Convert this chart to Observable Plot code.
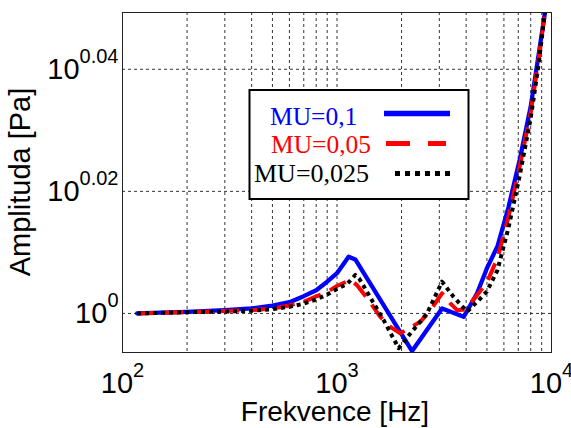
<!DOCTYPE html>
<html>
<head>
<meta charset="utf-8">
<script src="https://cdn.jsdelivr.net/npm/d3@7"></script>
<script src="https://cdn.jsdelivr.net/npm/@observablehq/plot@0.6"></script>
<style>
  html, body { margin: 0; padding: 0; background: #fff; }
  #chart { width: 571px; height: 428px; overflow: hidden; }
</style>
</head>
<body>
<div id="chart"></div>
<script>
// ---------------- data ----------------
const seriesNames = ["MU=0,1", "MU=0,05", "MU=0,025"];
const seriesColors = ["#0000ff", "#ff0000", "#000000"];

// MU=0,1 (blue, solid): frequency [Hz] and log10(amplitude)
const mu01Freq = [117, 150, 200, 300, 400, 500, 600, 700, 800, 900, 1000, 1133, 1217, 2238, 3088, 3895, 4500, 5000, 5600, 6300, 7100, 8000, 8700, 9320];
const mu01Exp  = [0, 0.00013, 0.00026, 0.00054, 0.00082, 0.00128, 0.00185, 0.00283, 0.0038, 0.0052, 0.0066, 0.0093, 0.00884, -0.00617, 0.00082, -0.00056, 0.0033, 0.0074, 0.0110, 0.0174, 0.0251, 0.0339, 0.0423, 0.0493];

// MU=0,05 (red, dashed)
const mu005Freq = [117, 150, 200, 300, 400, 500, 600, 700, 800, 900, 1000, 1153, 1240, 1404, 1592, 1773, 1973, 2121, 2446, 2724, 3088, 3377, 3628, 3967, 4500, 5000, 5600, 6300, 7100, 8000, 8700, 9320];
const mu005Exp  = [0, 0.0001, 0.0002, 0.0004, 0.00054, 0.0008, 0.0013, 0.0019, 0.0028, 0.0035, 0.0045, 0.0055, 0.00463, 0.00218, -0.00056, -0.00219, -0.00327, -0.00262, -0.00138, 0.00054, 0.00327, 0.00164, 0.00054, 0.00065, 0.0030, 0.0051, 0.00905, 0.0158, 0.0240, 0.0329, 0.0415, 0.0493];

// MU=0,025 (black, dotted)
const mu0025Freq = [117, 150, 200, 300, 400, 500, 600, 700, 800, 900, 1000, 1120, 1217, 1270, 1650, 1938, 2198, 2629, 3088, 3498, 4039, 4500, 5000, 5600, 6300, 7100, 8000, 8700, 9320];
const mu0025Exp  = [0, 0.0001, 0.0002, 0.0003, 0.00045, 0.0007, 0.0011, 0.0016, 0.0023, 0.0031, 0.0040, 0.0049, 0.0063, 0.0057, -0.0011, -0.0057, -0.0033, 0.0000, 0.0052, 0.0027, 0.0003, 0.0019, 0.0036, 0.0071, 0.0140, 0.0225, 0.0320, 0.0407, 0.0493];

// axes
const xDomain = [100, 10000];
const xTickValues = [100, 1000, 10000];
const xTickExps = ["2", "3", "4"];
const xGridValues = [200, 300, 400, 500, 600, 700, 800, 900, 1000, 2000, 3000, 4000, 5000, 6000, 7000, 8000, 9000];
const yDomainExp = [-0.0064, 0.0493];
const yTickExps = [0, 0.02, 0.04];
const yTickExpLabels = ["0", "0.02", "0.04"];
const xTitle = "Frekvence [Hz]";
const yTitle = "Amplituda [Pa]";

// ---------------- build ----------------
function rows(freq, exps) {
  return freq.map((f, i) => ({ f, a: Math.pow(10, exps[i]) }));
}
const blueRows = rows(mu01Freq, mu01Exp);
const redRows = rows(mu005Freq, mu005Exp);
const blackRows = rows(mu0025Freq, mu0025Exp);
const yTickValues = yTickExps.map(e => Math.pow(10, e));

function yLabel(d) {
  let best = 0;
  yTickValues.forEach((v, i) => { if (Math.abs(v - d) < Math.abs(yTickValues[best] - d)) best = i; });
  return "10^" + yTickExpLabels[best];
}
function xLabel(d) {
  let best = 0;
  xTickValues.forEach((v, i) => { if (Math.abs(v - d) < Math.abs(xTickValues[best] - d)) best = i; });
  return "10^" + xTickExps[best];
}

const gridStyle = { stroke: "#000", strokeOpacity: 1, strokeWidth: 0.8, strokeDasharray: "3,3" };

const chart = Plot.plot({
  width: 571,
  height: 428,
  marginLeft: 122,
  marginRight: 20,
  marginTop: 12,
  marginBottom: 76,
  style: { fontSize: "29px", fontFamily: "'Liberation Sans', Arial, sans-serif", background: "#fff", color: "#000", overflow: "visible" },
  x: { type: "log", domain: xDomain },
  y: { type: "log", domain: yDomainExp.map(e => Math.pow(10, e)) },
  marks: [
    Plot.gridX(xGridValues, gridStyle),
    Plot.gridY(yTickValues, gridStyle),
    Plot.line(blueRows, { x: "f", y: "a", stroke: seriesColors[0], strokeWidth: 4.3, clip: true }),
    Plot.line(redRows, { x: "f", y: "a", stroke: seriesColors[1], strokeWidth: 4, strokeDasharray: "18,10", strokeLinecap: "butt", clip: true }),
    Plot.line(blackRows, { x: "f", y: "a", stroke: seriesColors[2], strokeWidth: 4, strokeDasharray: "4,4", strokeLinecap: "butt", clip: true }),
    Plot.frame({ stroke: "#222", strokeWidth: 1 }),
    Plot.axisX(xTickValues, { tickSize: 0, tickPadding: 20, tickFormat: xLabel, label: null }),
    Plot.axisY(yTickValues, { tickSize: 0, tickPadding: 4, tickFormat: yLabel, label: null })
  ]
});
document.getElementById("chart").appendChild(chart);

// superscript tick labels (10^n)
const NS = "http://www.w3.org/2000/svg";
chart.querySelectorAll('g[aria-label="x-axis tick label"] text, g[aria-label="y-axis tick label"] text').forEach(t => {
  const parts = t.textContent.split("^");
  if (parts.length !== 2) return;
  t.textContent = "";
  const b = document.createElementNS(NS, "tspan");
  b.textContent = parts[0];
  t.appendChild(b);
  const s = document.createElementNS(NS, "tspan");
  s.setAttribute("dy", "-16");
  s.setAttribute("font-size", "20");
  s.textContent = parts[1];
  t.appendChild(s);
});

const svg = d3.select(chart);
// axis titles
svg.append("text")
  .attr("x", 335).attr("y", 421)
  .attr("text-anchor", "middle")
  .attr("font-size", 28)
  .attr("fill", "#000")
  .text(xTitle);
svg.append("text")
  .attr("transform", "translate(30,182) rotate(-90)")
  .attr("text-anchor", "middle")
  .attr("font-size", 29)
  .attr("fill", "#000")
  .text(yTitle);

// legend
const lg = svg.append("g").attr("aria-label", "legend");
lg.append("rect")
  .attr("x", 249.5).attr("y", 90).attr("width", 219).attr("height", 109)
  .attr("fill", "#fff").attr("stroke", "#000").attr("stroke-width", 2);
const legendDash = [null, "24,18", "5,5"];
const legendWidth = [5.5, 5, 5];
const legendTextX = [270, 271, 254];
const legendTextSize = [25.5, 25.5, 26];
const legendLineX = [[384, 450], [386, 446], [395, 455]];
seriesNames.forEach((name, i) => {
  const base = 124.5 + i * 28.5;
  lg.append("text")
    .attr("x", legendTextX[i]).attr("y", base)
    .attr("text-anchor", "start")
    .attr("font-family", "'Liberation Serif', 'Times New Roman', serif")
    .attr("font-size", legendTextSize[i])
    .attr("fill", seriesColors[i])
    .text(name);
  lg.append("line")
    .attr("x1", legendLineX[i][0]).attr("x2", legendLineX[i][1])
    .attr("y1", base - 11 + i * 1.5).attr("y2", base - 11 + i * 1.5)
    .attr("stroke", seriesColors[i])
    .attr("stroke-width", legendWidth[i])
    .attr("stroke-dasharray", legendDash[i])
    .attr("stroke-linecap", "butt");
});
</script>
</body>
</html>
